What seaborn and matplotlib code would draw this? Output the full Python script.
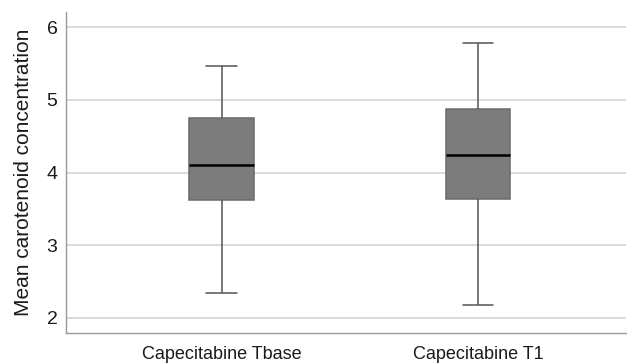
import numpy as np
import pandas as pd
import matplotlib
matplotlib.use("Agg")
import matplotlib.pyplot as plt
import seaborn as sns

# five-number summaries (min, q1, median, q3, max)
groups = ["Capecitabine Tbase", "Capecitabine T1"]
tbase_values = [2.34, 3.62, 4.11, 4.75, 5.47]
t1_values = [2.17, 3.63, 4.24, 4.88, 5.79]
y_ticks = [2, 3, 4, 5, 6]

df = pd.DataFrame({
    "group": [groups[0]] * len(tbase_values) + [groups[1]] * len(t1_values),
    "value": tbase_values + t1_values,
})

sns.set_style("white")
plt.rcParams["font.family"] = ["Liberation Sans", "DejaVu Sans"]

fig = plt.figure(figsize=(6.27, 3.64), dpi=100)
ax = fig.add_axes([0.105, 0.085, 0.893, 0.882])

sns.boxplot(data=df, x="group", y="value", order=groups, ax=ax,
            width=0.25, whis=(0, 100), color="#7c7c7c", saturation=1,
            linewidth=1.1, linecolor="#555555",
            medianprops=dict(color="black", linewidth=1.8),
            boxprops=dict(edgecolor="#6a6a6a"),
            capwidths=0.12)

ax.set_xlim(-0.607, 1.576)
ax.set_ylim(1.79, 6.21)
ax.set_yticks(y_ticks)
ax.yaxis.grid(True, color="#d4d4d4", linewidth=1.2)
ax.set_axisbelow(True)

for side in ["top", "right"]:
    ax.spines[side].set_visible(False)
for side in ["left", "bottom"]:
    ax.spines[side].set_color("#9a9a9a")
    ax.spines[side].set_linewidth(1.0)

ax.set_xlabel("")
ax.set_ylabel("Mean carotenoid concentration", fontsize=15, color="#1a1a1a", labelpad=10)
ax.tick_params(axis="y", labelsize=14, length=0, pad=6, labelcolor="#1a1a1a")
ax.tick_params(axis="x", labelsize=13, length=0, pad=9, labelcolor="#1a1a1a")

fig.savefig("out.png", dpi=100)
